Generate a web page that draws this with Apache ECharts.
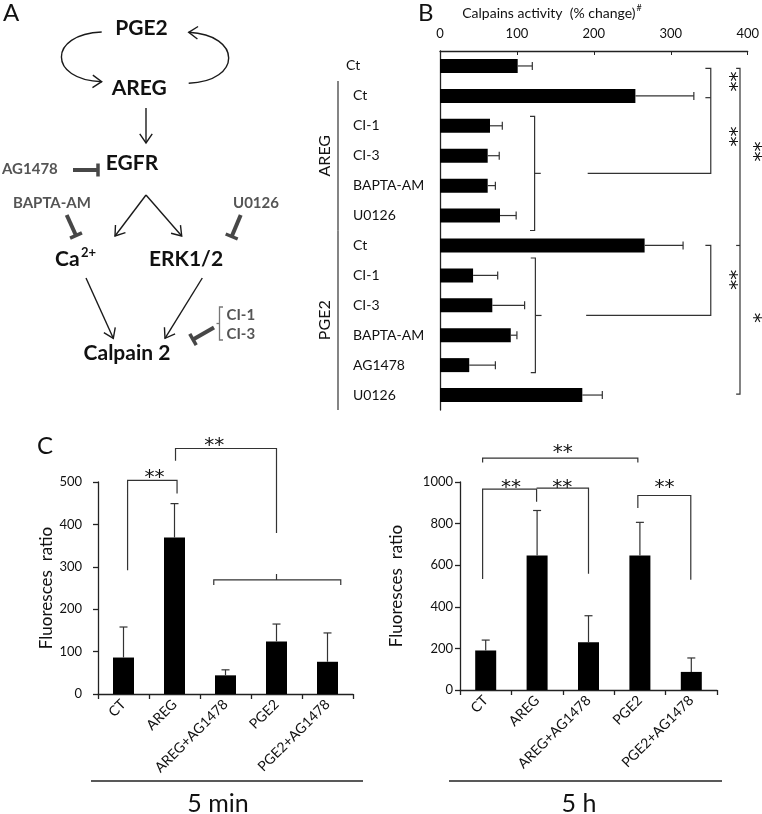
<!DOCTYPE html>
<html><head><meta charset="utf-8">
<script src="https://cdn.jsdelivr.net/npm/echarts@6/dist/echarts.min.js"></script>
<style>html,body{margin:0;padding:0;background:#fff}#c{width:762px;height:814px}</style>
</head><body><div id="c"></div>
<script>
// ---------- Panel B data ----------
const bCategories = ['Ct','Ct','CI-1','CI-3','BAPTA-AM','U0126','Ct','CI-1','CI-3','BAPTA-AM','AG1478','U0126'];
const bValues = [101, 254, 65, 62, 62, 78, 266, 43, 68, 92, 38, 185];
const bErrors = [19, 76, 16, 15, 10, 21, 50, 32, 42, 8, 34, 26];
const bTicks = [0, 100, 200, 300, 400];
const bGroups = [{name:'AREG', from:1, to:5}, {name:'PGE2', from:6, to:11}];

// ---------- Panel C data ----------
const cCategories = ['CT','AREG','AREG+AG1478','PGE2','PGE2+AG1478'];
const c5minValues = [86, 369, 44, 124, 76];
const c5minErrors = [72, 80, 13, 41, 68];
const c5hValues = [190, 647, 229, 647, 87];
const c5hErrors = [50, 216, 128, 159, 67];
const c5minTicks = [0, 100, 200, 300, 400, 500];
const c5hTicks = [0, 200, 400, 600, 800, 1000];

// ---------- significance annotations (data coordinates) ----------
const bBrackets = [
  [[345,0.08],[352,0.08],[352,3.59],[192,3.59]],
  [[345,1.06],[352,1.06]],
  [[117,1.685],[123,1.685],[123,5.5],[117,5.5]],
  [[123,3.59],[131,3.59]],
  [[385,0.08],[390,0.08],[390,10.97],[385,10.97]],
  [[385,6.0],[390,6.0]],
  [[345,6.0],[352,6.0],[352,8.34],[190,8.34]],
  [[118,6.42],[124,6.42],[124,10.25],[118,10.25]],
  [[124,8.34],[132,8.34]]
];
const bStars = [[369,0.52,'**'],[369,2.36,'**'],[401,2.86,'**'],[401,8.42,'*'],[369,7.15,'**']];
const c5minBrackets = [
  [[0.08,292],[0.08,504],[1.05,504],[1.05,473]],
  [[1.02,550],[1.02,579],[3.0,579],[3.0,380]],
  [[1.77,257],[1.77,269],[4.26,269],[4.26,257]],
  [[3.0,269],[3.0,283]]
];
const c5minStars = [[0.61,521,'**'],[1.78,598,'**']];
const c5hBrackets = [
  [[-0.06,1094],[-0.06,1115],[2.96,1115],[2.96,1094]],
  [[-0.06,534],[-0.06,966],[0.99,966],[0.99,905]],
  [[0.99,971],[2.0,971],[2.0,559]],
  [[2.96,875],[2.96,935],[3.99,935],[3.99,530]]
];
const c5hStars = [[1.5,1165,'**'],[0.49,998,'**'],[1.49,998,'**'],[3.48,998,'**']];

const FF = 'Lato, "Open Sans", sans-serif';
const AX = '#222';
const chart = echarts.init(document.getElementById('c'), null, {renderer:'canvas'});

function errV(params, api){
  const i = api.value(0), v = api.value(1), e = api.value(2);
  const a = api.coord([i, v]), b = api.coord([i, v + e]);
  const st = {stroke:'#333', lineWidth:1.2};
  return {type:'group', children:[
    {type:'line', shape:{x1:a[0],y1:a[1],x2:b[0],y2:b[1]}, style:st},
    {type:'line', shape:{x1:b[0]-4,y1:b[1],x2:b[0]+4,y2:b[1]}, style:st}
  ]};
}
function errH(params, api){
  const i = api.value(0), v = api.value(1), e = api.value(2);
  const a = api.coord([v, i]), b = api.coord([v + e, i]);
  const st = {stroke:'#333', lineWidth:1.2};
  return {type:'group', children:[
    {type:'line', shape:{x1:a[0],y1:a[1],x2:b[0],y2:b[1]}, style:st},
    {type:'line', shape:{x1:b[0],y1:b[1]-4,x2:b[0],y2:b[1]+4}, style:st}
  ]};
}

const lineAx = {show:true, lineStyle:{color:AX, width:1.3}};
const cXAxis = (g) => ({
  gridIndex:g, type:'category', data:cCategories,
  axisLine:lineAx, axisTick:{show:true, length:5, lineStyle:{color:AX, width:1.3}},
  axisLabel:{rotate:45, interval:0, fontSize:14, color:'#111', margin:8, fontFamily:FF}
});
const cYAxis = (g, ticks, margin, gap) => ({
  gridIndex:g, type:'value', min:ticks[0], max:ticks[ticks.length-1], interval:ticks[1]-ticks[0],
  axisLine:lineAx, axisTick:{show:true, length:5, lineStyle:{color:AX, width:1.3}},
  axisLabel:{fontSize:13, color:'#111', margin:margin, fontFamily:FF, formatter:(v)=>String(v)},
  splitLine:{show:false},
  name:'Fluoresces  ratio', nameLocation:'middle', nameGap:gap,
  nameTextStyle:{fontSize:17, color:'#111', fontFamily:FF}
});

chart.setOption({
  animation:false,
  backgroundColor:'#fff',
  textStyle:{fontFamily:FF},
  grid:[
    {left:440, top:51, width:309, height:359},
    {left:98, top:482, width:255, height:212},
    {left:460, top:482, width:257, height:208}
  ],
  xAxis:[
    {gridIndex:0, type:'value', position:'top', min:bTicks[0], max:bTicks[bTicks.length-1], interval:bTicks[1]-bTicks[0],
     axisLine:lineAx, axisTick:{show:true, inside:true, length:4, lineStyle:{color:AX}},
     axisLabel:{fontSize:13, color:'#111', margin:11, fontFamily:FF}, splitLine:{show:false}},
    cXAxis(1), cXAxis(2)
  ],
  yAxis:[
    {gridIndex:0, type:'category', data:bCategories, inverse:true,
     axisLine:lineAx, axisTick:{show:false},
     axisLabel:{interval:0, align:'left', margin:94, fontSize:14, color:'#111', fontFamily:FF,
       formatter:(v,i)=> i===0 ? '{a|'+v+'}' : '{b|'+v+'}',
       rich:{a:{fontSize:14, color:'#111', fontFamily:FF}, b:{fontSize:14, color:'#111', fontFamily:FF, padding:[0,0,0,7]}}}},
    cYAxis(1, c5minTicks, 16, 42),
    cYAxis(2, c5hTicks, 7, 55)
  ],
  series:[
    {type:'bar', xAxisIndex:0, yAxisIndex:0, data:bValues, barWidth:14, itemStyle:{color:'#000'}},
    {type:'custom', xAxisIndex:0, yAxisIndex:0, renderItem:errH, encode:{x:[1,2], y:0}, z:3,
     data:bValues.map((v,i)=>[i, v, bErrors[i]])},
    {type:'bar', xAxisIndex:1, yAxisIndex:1, data:c5minValues, barWidth:21, itemStyle:{color:'#000'}},
    {type:'custom', xAxisIndex:1, yAxisIndex:1, renderItem:errV, encode:{x:0, y:[1,2]}, z:3,
     data:c5minValues.map((v,i)=>[i, v, c5minErrors[i]])},
    {type:'bar', xAxisIndex:2, yAxisIndex:2, data:c5hValues, barWidth:21, itemStyle:{color:'#000'}},
    {type:'custom', xAxisIndex:2, yAxisIndex:2, renderItem:errV, encode:{x:0, y:[1,2]}, z:3,
     data:c5hValues.map((v,i)=>[i, v, c5hErrors[i]])}
  ]
});

// ---------- annotations ----------
function mapper(g){
  const a = chart.convertToPixel({gridIndex:g}, [0,0]);
  const b = chart.convertToPixel({gridIndex:g}, [1,1]);
  return (x,y) => [a[0] + x*(b[0]-a[0]), a[1] + y*(b[1]-a[1])];
}
const els = [];
const BR = '#333';
function poly(pts, w, c){ els.push({type:'polyline', shape:{points:pts}, style:{stroke:c||BR, lineWidth:w||1.2, fill:null}}); }
function txt(t, x, y, o){
  o = o || {};
  els.push({type:'text', x:x, y:y, rotation:o.rot||0, style:{text:t, x:0, y:0,
    fontSize:o.size||14, fontWeight:o.bold?'bold':'normal', fontFamily:o.ff||FF, fill:o.color||'#111',
    align:o.align||'center', verticalAlign:o.va||'middle'}});
}
function addBrackets(g, brs, stars, rotStars){
  const m = mapper(g);
  brs.forEach(b => poly(b.map(p => m(p[0], p[1]))));
  stars.forEach(s => {
    const p = m(s[0], s[1]);
    if (rotStars) txt(s[2], p[0]+5, p[1], {size:20, rot:-Math.PI/2, ff:'"DejaVu Sans", sans-serif'});
    else txt(s[2], p[0], p[1]+5, {size:20, ff:'"DejaVu Sans", sans-serif'});
  });
}
addBrackets(0, bBrackets, bStars, true);
addBrackets(1, c5minBrackets, c5minStars, false);
addBrackets(2, c5hBrackets, c5hStars, false);

// group labels for panel B
(function(){
  const m = mapper(0);
  bGroups.forEach(gr => {
    const y0 = m(0, gr.from - 0.5)[1], y1 = m(0, gr.to + 0.5)[1];
    const x0 = m(0, 0)[0];
    poly([[x0-102, y0], [x0-102, y1]], 1.2, '#333');
    txt(gr.name, x0-115, (y0+y1)/2, {size:16, rot:Math.PI/2});
  });
})();

// panel titles / labels
txt('A', 3, 13, {size:24, align:'left'});
txt('B', 418, 13, {size:24, align:'left'});
txt('C', 37, 446, {size:24, align:'left'});
els.push({type:'text', x:552, y:13, style:{text:'{t|Calpains activity  (% change)}{s|#}', x:0, y:0, align:'center', verticalAlign:'middle',
  rich:{t:{fontSize:14, fontFamily:FF, fill:'#111'}, s:{fontSize:9, fontFamily:FF, fill:'#111', padding:[0,0,9,1]}}}});

// time labels with underline
poly([[91,781],[363,781]], 1.3, '#222');
poly([[449,781],[722,781]], 1.3, '#222');
txt('5 min', 218, 804, {size:25});
txt('5 h', 579, 804, {size:25});

// ---------- Panel A diagram ----------
const S = '#1a1a1a', GR = '#474747';
function ln(x1,y1,x2,y2,w,c){ els.push({type:'line', shape:{x1,y1,x2,y2}, style:{stroke:c||S, lineWidth:w||1.4}}); }
function head(x1,y1,x2,y2,len){
  const a = Math.atan2(y2-y1, x2-x1), s = Math.PI/5.2;
  els.push({type:'polyline', shape:{points:[[x2-len*Math.cos(a-s), y2-len*Math.sin(a-s)],[x2,y2],[x2-len*Math.cos(a+s), y2-len*Math.sin(a+s)]]},
    style:{stroke:S, lineWidth:1.4, fill:null}});
}
function arrow(x1,y1,x2,y2){ ln(x1,y1,x2,y2); head(x1,y1,x2,y2,11); }
function inhib(x1,y1,x2,y2,h){
  const a = Math.atan2(y2-y1, x2-x1), px = -Math.sin(a), py = Math.cos(a);
  ln(x1,y1,x2,y2,4,GR);
  ln(x2+px*h, y2+py*h, x2-px*h, y2-py*h, 3.5, GR);
}
function curve(x1,y1,c1x,c1y,c2x,c2y,x2,y2){
  els.push({type:'bezierCurve', shape:{x1,y1,cpx1:c1x,cpy1:c1y,cpx2:c2x,cpy2:c2y,x2,y2}, style:{stroke:S, lineWidth:1.4, fill:null}});
  head(c2x,c2y,x2,y2,11);
}
curve(101.7,32, 48,34, 48,80, 101.7,81.7);
curve(188.7,83.3, 242,81, 242,35, 188.7,32.3);
arrow(146,108,146,143);
arrow(146,195,115,236);
arrow(146,195,181.7,236);
inhib(73,170,98,170,6.5);
inhib(66.7,215,76,235.5,6.5);
inhib(240.7,215,231.7,236.5,6.5);
arrow(86,278,113.3,338.3);
arrow(202.3,278,165,338.3);
poly([[223,307],[219.5,307],[219.5,340],[223,340]], 1.3, '#777');
poly([[219.5,323.5],[216.5,323.5]], 1.3, '#777');
inhib(214,327.5,193,339.5,6.5);

txt('PGE2', 141.5, 28.5, {size:21, bold:true});
txt('AREG', 139.3, 88.5, {size:21, bold:true});
txt('EGFR', 132, 163, {size:21, bold:true});
txt('AG1478', 2, 169.5, {size:15, bold:true, align:'left', color:'#555'});
txt('BAPTA-AM', 13, 203, {size:15, bold:true, align:'left', color:'#555'});
txt('U0126', 233, 203, {size:15, bold:true, align:'left', color:'#555'});
txt('Ca', 55, 259.5, {size:21, bold:true, align:'left'});
txt('2+', 81, 253, {size:13, bold:true, align:'left'});
txt('ERK1/2', 186, 259.5, {size:21, bold:true});
txt('Calpain 2', 127, 353, {size:21, bold:true});
txt('CI-1', 226.5, 315, {size:15, bold:true, align:'left', color:'#555'});
txt('CI-3', 226.5, 334.5, {size:15, bold:true, align:'left', color:'#555'});

chart.setOption({graphic:{elements:els}});
</script>
</body></html>
